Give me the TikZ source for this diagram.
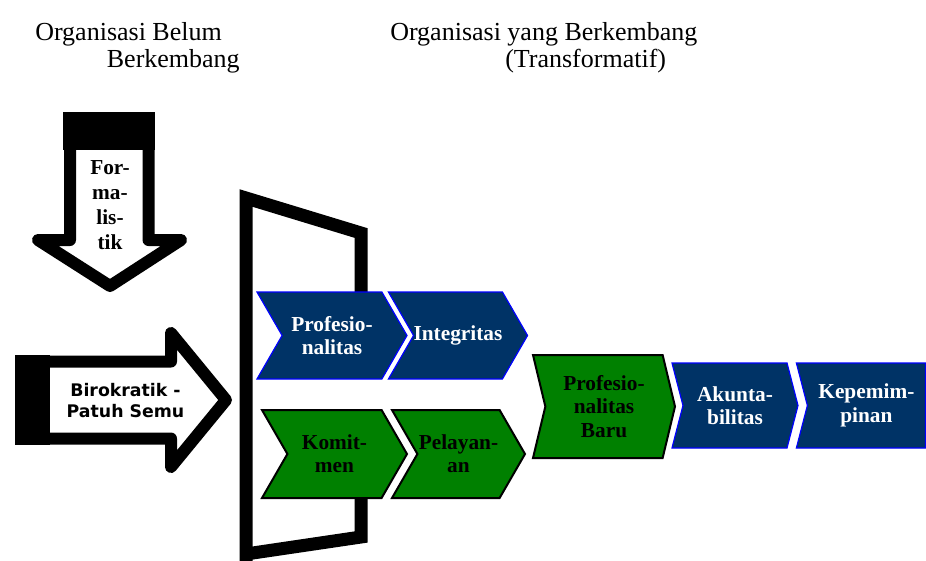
\documentclass[tikz,border=0pt]{standalone}
\usepackage{fontspec}
\setmainfont{Liberation Serif}
\newfontfamily\arwfont{DejaVu Sans}
\usetikzlibrary{shapes.symbols,positioning}
\definecolor{orgnavy}{RGB}{0,51,102}
\definecolor{orggreen}{RGB}{0,128,0}
\definecolor{orgblue}{RGB}{0,0,255}
\newcommand{\pxl}{0.75pt}
\tikzset{
	every node/.style = { align = center, inner sep=0pt },
	head/.style = { font=\fontsize{19.5}{20}\selectfont },
	chev/.style = { signal, signal from=west, signal to=east, signal pointer angle=120,
		font=\fontsize{16}{17.5}\selectfont\bfseries },
	nchev/.style = { chev, fill=orgnavy, draw=orgblue, line width=1.2*\pxl, text=white },
	gchev/.style = { chev, fill=orggreen, draw=black, line width=2*\pxl },
	frm/.style = { draw, line width=13*\pxl, line join=miter },
	bigarw/.style = { draw, fill=white, line width=12*\pxl, line join=round },
	downtxt/.style = { font=\fontsize{16}{18.75}\selectfont\bfseries },
	arwtxt/.style = { font=\arwfont\fontsize{13}{15.75}\selectfont\bfseries },
}

\begin{document}
\begin{tikzpicture}[x=\pxl,y=-\pxl]
\useasboundingbox (0,0) rectangle (926,561);

% headings
\node (lhead)  [head,anchor=base west] at (35,40)  {Organisasi Belum};
\node (lhead2) [head,anchor=base east] at (240,67) {Berkembang};
\node (rhead)  [head,anchor=base west] at (390,40) {Organisasi yang Berkembang};
\node (rhead2) [head,anchor=base west] at (505,67) {(Transformatif)};

% door frame
\draw[frm] (246,561) -- (246,198) -- (361,233) -- (361,293);
\draw[frm] (361,497) -- (361,537) -- (246,554);

% down arrow
\draw[bigarw] (70,118) -- (148.5,118) -- (148.5,240) -- (181,240) -- (110,286) -- (38,240) -- (70,240) -- cycle;
\fill (63,112) rectangle (155,150);
\node (formal) [downtxt] at (110,205.5) {For-\\ma-\\lis-\\tik};

% right arrow
\draw[bigarw] (21,361.5) -- (171,361.5) -- (171,333) -- (226,400) -- (171,467) -- (171,438.5) -- (21,438.5) -- cycle;
\fill (15,355) rectangle (50,445);
\node (birok) [arwtxt] at (125.5,400.5) {Birokratik -\\Patuh Semu};

% chevrons
\node (prof)  [nchev,minimum width=150*\pxl,minimum height=87*\pxl] at (332,335.5) {Profesio-\\nalitas};
\node (integ) [nchev,minimum width=136*\pxl,minimum height=87*\pxl] at (458,335.5) {Integritas};
\node (komit) [gchev,minimum width=145*\pxl,minimum height=88*\pxl] at (334.5,454) {Komit-\\men};
\node (pelay) [gchev,minimum width=133*\pxl,minimum height=88*\pxl] at (458.5,454) {Pelayan-\\an};
\node (baru)  [gchev,signal pointer angle=153,minimum width=142*\pxl,minimum height=103*\pxl] at (604,406.5) {Profesio-\\nalitas\\Baru};
\node (akunt) [nchev,signal pointer angle=151,minimum width=126*\pxl,minimum height=85*\pxl] at (735,405.5) {Akunta-\\bilitas};
\node (kepem) [nchev,signal pointer angle=151,signal to=nowhere,minimum width=129*\pxl,minimum height=85*\pxl,anchor=east] at (926,405.5) {Kepemim-\\pinan};

\end{tikzpicture}
\end{document}
